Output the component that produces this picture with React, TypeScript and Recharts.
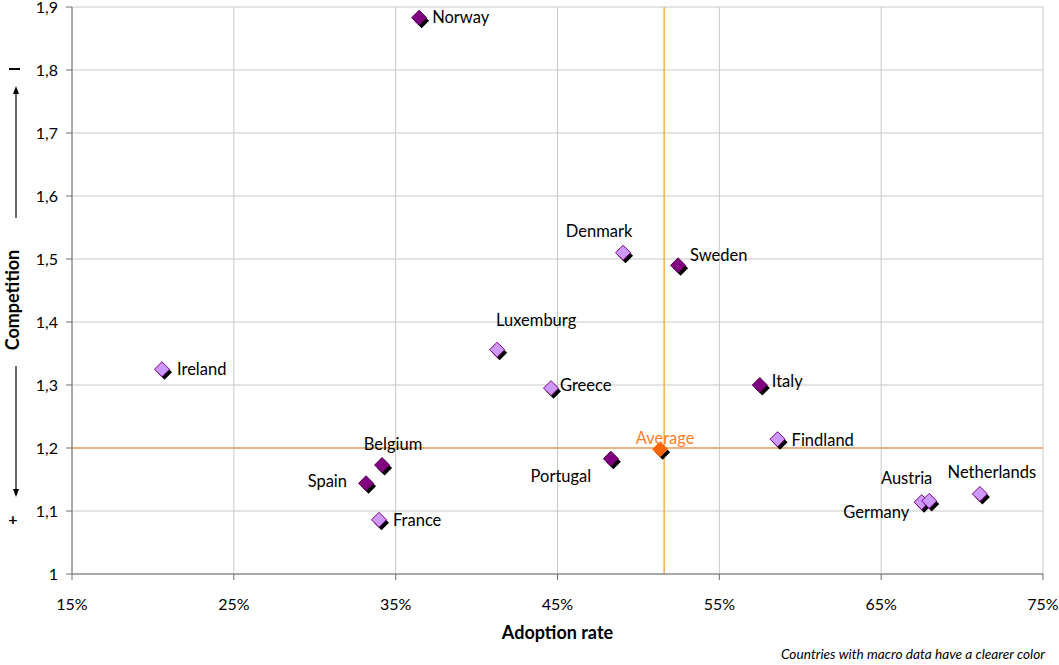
import {
  CartesianGrid,
  ReferenceLine,
  Scatter,
  ScatterChart,
  XAxis,
  YAxis,
} from "recharts";

// countries with macro data (lighter colour)
const macroCountries = ["Denmark", "Luxemburg", "Ireland", "Greece", "Findland", "France", "Austria", "Germany", "Netherlands"];
const macroAdoption = [0.4905, 0.4127, 0.2056, 0.446, 0.586, 0.3397, 0.675, 0.6797, 0.711];
const macroCompetition = [1.51, 1.356, 1.325, 1.295, 1.214, 1.086, 1.114, 1.116, 1.127];

// countries without macro data (darker colour)
const otherCountries = ["Norway", "Sweden", "Italy", "Portugal", "Belgium", "Spain"];
const otherAdoption = [0.3645, 0.5245, 0.575, 0.483, 0.3416, 0.3317];
const otherCompetition = [1.883, 1.49, 1.3, 1.183, 1.173, 1.144];

const averageAdoption = 0.5159;
const averageCompetition = 1.2;

const xTicks = [0.15, 0.25, 0.35, 0.45, 0.55, 0.65, 0.75];
const yTicks = [1, 1.1, 1.2, 1.3, 1.4, 1.5, 1.6, 1.7, 1.8, 1.9];

// where each label sits relative to its marker
const labelPos: Record<string, { dx: number; dy: number; anchor: string }> = {
  Norway: { dx: 13, dy: 0, anchor: "start" },
  Denmark: { dx: -24, dy: -21, anchor: "middle" },
  Sweden: { dx: 12, dy: -10, anchor: "start" },
  Luxemburg: { dx: 39, dy: -29, anchor: "middle" },
  Ireland: { dx: 15, dy: 0, anchor: "start" },
  Greece: { dx: 9, dy: -3, anchor: "start" },
  Italy: { dx: 12, dy: -4, anchor: "start" },
  Findland: { dx: 14, dy: 1, anchor: "start" },
  Average: { dx: 5, dy: -11, anchor: "middle" },
  Portugal: { dx: -50, dy: 18, anchor: "middle" },
  Belgium: { dx: 11, dy: -21, anchor: "middle" },
  Spain: { dx: -19, dy: -2, anchor: "end" },
  France: { dx: 14, dy: 0, anchor: "start" },
  Austria: { dx: -15, dy: -24, anchor: "middle" },
  Germany: { dx: -20, dy: 11, anchor: "end" },
  Netherlands: { dx: 12, dy: -22, anchor: "middle" },
};

const macroData = macroCountries.map((name, i) => ({ name, x: macroAdoption[i], y: macroCompetition[i] }));
const otherData = otherCountries.map((name, i) => ({ name, x: otherAdoption[i], y: otherCompetition[i] }));
const averageData = [{ name: "Average", x: averageAdoption - 0.0025, y: averageCompetition - 0.002 }];

const FONT = "Lato, 'Open Sans', sans-serif";

const makeShape = (fill: string, stroke: string, textColor: string) => (props: any) => {
  const { cx, cy, payload } = props;
  const r = 7.5;
  const d = (x: number, y: number) => `M${x},${y - r} L${x + r},${y} L${x},${y + r} L${x - r},${y} Z`;
  const pos = labelPos[payload.name] || { dx: 12, dy: 0, anchor: "start" };
  return (
    <g>
      <path d={d(cx + 2.5, cy + 3)} fill="#000" />
      <path d={d(cx, cy)} fill={fill} stroke={stroke} strokeWidth={1} />
      <text
        x={cx + pos.dx}
        y={cy + pos.dy}
        dy="0.35em"
        textAnchor={pos.anchor as any}
        fontSize={16.5}
        fontFamily={FONT}
        fill={textColor}
      >
        {payload.name}
      </text>
    </g>
  );
};

const YLabel = () => (
  <g fontFamily={FONT} fill="#000">
    <line x1={9} y1={69} x2={20} y2={69} stroke="#000" strokeWidth={2} />
    <line x1={16} y1={218} x2={16} y2={92} stroke="#000" strokeWidth={1.2} />
    <path d="M16,86 L13,94 L19,94 Z" fill="#000" />
    <text
      x={13}
      y={300}
      transform="rotate(-90 13 300)"
      textAnchor="middle"
      dy="0.35em"
      fontSize={18}
      fontWeight="bold"
    >
      Competition
    </text>
    <line x1={16} y1={366} x2={16} y2={490} stroke="#000" strokeWidth={1.2} />
    <path d="M16,497 L13,489 L19,489 Z" fill="#000" />
    <text x={13} y={519} textAnchor="middle" dy="0.35em" fontSize={16} fontWeight="bold">
      +
    </text>
  </g>
);

export default function App() {
  return (
    <div style={{ position: "absolute", left: 0, top: 0, background: "#fff" }}>
      <ScatterChart width={1059} height={665} margin={{ top: 7, right: 16, left: 22, bottom: 46 }}>
        <CartesianGrid stroke="#c8c8c8" strokeWidth={1} />
        <XAxis
          type="number"
          dataKey="x"
          domain={[0.15, 0.75]}
          ticks={xTicks}
          tickFormatter={(v) => `${Math.round(v * 100)}%`}
          stroke="#6e6e6e"
          tickSize={6}
          tickMargin={19}
          tick={{ fill: "#000", fontSize: 16, fontFamily: FONT }}
          height={45}
          interval={0}
          label={{
            value: "Adoption rate",
            position: "insideBottom",
            offset: -20,
            fill: "#000",
            fontSize: 18,
            fontWeight: "bold",
            fontFamily: FONT,
          }}
        />
        <YAxis
          type="number"
          dataKey="y"
          domain={[1, 1.9]}
          ticks={yTicks}
          tickFormatter={(v) => String(Math.round(v * 10) / 10).replace(".", ",")}
          stroke="#6e6e6e"
          tickSize={6}
          tickMargin={8}
          tick={{ fill: "#000", fontSize: 16, fontFamily: FONT }}
          width={50}
          interval={0}
          label={<YLabel />}
        />
        <ReferenceLine x={averageAdoption} stroke="#f9a33c" strokeWidth={1.3} />
        <ReferenceLine y={averageCompetition} stroke="#e5a65a" strokeWidth={1.3} />
        <Scatter
          data={otherData}
          isAnimationActive={false}
          shape={makeShape("#800080", "#5a005a", "#000")}
        />
        <Scatter
          data={macroData}
          isAnimationActive={false}
          shape={makeShape("#cc99ff", "#800080", "#000")}
        />
        <Scatter
          data={averageData}
          isAnimationActive={false}
          shape={makeShape("#ff6600", "#ff6600", "#ff7f27")}
        />
      </ScatterChart>
      <div
        style={{
          position: "absolute",
          right: 14,
          top: 645,
          fontFamily: FONT,
          fontStyle: "italic",
          fontSize: 13.7,
          color: "#000",
        }}
      >
        Countries with macro data have a clearer color
      </div>
    </div>
  );
}
